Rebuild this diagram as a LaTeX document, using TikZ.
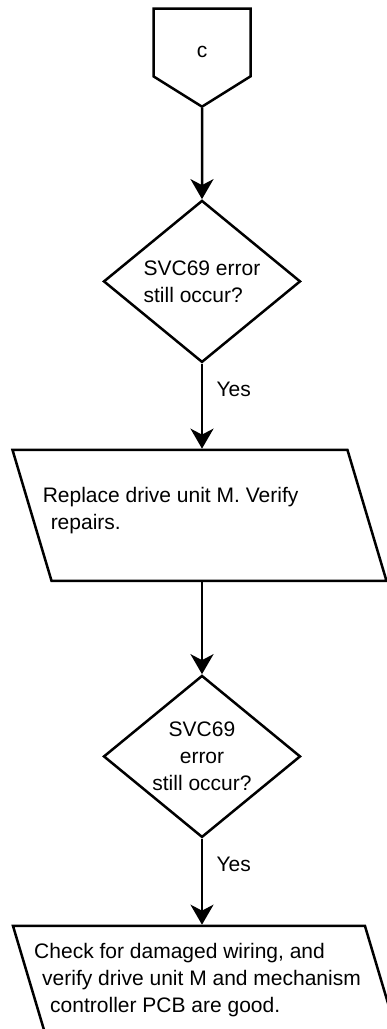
\documentclass[tikz,border=0pt]{standalone}
\usepackage{fontspec}
\setmainfont{Liberation Sans}
\usetikzlibrary{positioning}
\usetikzlibrary{shapes.geometric}
\usetikzlibrary{shapes.symbols}
\usetikzlibrary{arrows.meta}

\begin{document}
\begin{tikzpicture}[line width=2.5pt,
		every node/.style={font=\fontsize{21pt}{27pt}\selectfont},
		offpage/.style={draw, signal, signal to=south, signal from=nowhere, signal pointer angle=116,
			minimum width=97pt, minimum height=71pt, inner sep=0pt},
		decision/.style={draw, diamond, aspect=1.22, minimum width=197pt, minimum height=162pt, inner sep=0pt},
		io/.style={draw, trapezium, trapezium left angle=106.6, trapezium right angle=73.4,
			trapezium stretches body, inner ysep=65.5pt, minimum width=374pt},
		flow/.style={-{Stealth[length=20pt,width=23pt,inset=6pt]}},
		yes/.style={pos=0.3, right=10pt},
		txt/.style={align=left, inner sep=0pt, anchor=west},
		]
	\useasboundingbox (0pt,0pt) rectangle (386pt,-1029pt);
	
	\node[offpage] (c) at (202pt,-42.5pt) {\raisebox{-15pt}[0pt][0pt]{c}};
	\node[decision, below=91pt of c, align=left] (d1) {SVC69 error\\still occur?};
	\node[io, below=85pt of d1, xshift=-2.5pt] (p1) {};
	\node[txt] (p1text) at ([xshift=-158pt, yshift=5pt]p1.center) {Replace drive unit M. Verify\\\hspace{8pt}repairs.};
	\node[decision, below=92pt of p1, xshift=2.5pt, align=center] (d2) {SVC69\\error\\still occur?};
	\node[io, below=86pt of d2, xshift=6.5pt, minimum width=391pt] (p2) {};
	\node[txt] (p2text) at ([xshift=-175.5pt, yshift=11.5pt]p2.center) {Check for damaged wiring, and\\\hspace{8pt}verify drive unit M and mechanism\\\hspace{16pt}controller PCB are good.};
	
	\draw[flow] (c) -- (d1);
	\draw[flow] (d1) -- node[yes] {Yes} (d1.south |- p1.north);
	\draw[flow] (d2.north |- p1.south) -- (d2);
	\draw[flow] (d2) -- node[yes] {Yes} (d2.south |- p2.north);
	
\end{tikzpicture}
\end{document}
